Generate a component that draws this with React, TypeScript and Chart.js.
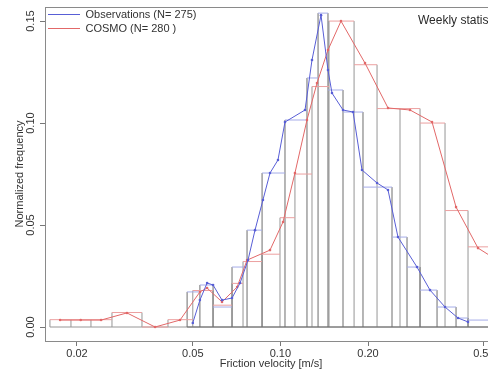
import React, { useEffect, useRef } from 'react';
import { Chart, registerables } from 'chart.js';

Chart.register(...registerables);

// ---- axis ticks ----
const xTickValues = [0.02, 0.05, 0.1, 0.2, 0.5];
const xTickLabels = ['0.02', '0.05', '0.10', '0.20', '0.50'];
const yTickValues = [0, 0.05, 0.1, 0.15];
const yTickLabels = ['0.00', '0.05', '0.10', '0.15'];

// ---- observations histogram (bin edges, normalized frequency) ----
const obsBinEdges = [0.0478, 0.0529, 0.0587, 0.0682, 0.0768, 0.0865, 0.1037, 0.1234, 0.1347, 0.1457, 0.1641, 0.1922, 0.2418, 0.2723, 0.3018, 0.3453, 0.4013, 0.4412, 0.5251];
const obsBinFreq = [0.0172, 0.0206, 0.0098, 0.0294, 0.0475, 0.0755, 0.1015, 0.1221, 0.1539, 0.1162, 0.1054, 0.0686, 0.0441, 0.0294, 0.0181, 0.0098, 0.0044, 0.0034];

// ---- COSMO histogram ----
const cosmoBinEdges = [0.01615, 0.01907, 0.02234, 0.02638, 0.03345, 0.04109, 0.05, 0.05866, 0.0682, 0.0744, 0.08645, 0.09968, 0.1122, 0.1284, 0.1469, 0.1791, 0.2148, 0.2576, 0.3018, 0.3678, 0.4412, 0.6152];
const cosmoBinFreq = [0.0036, 0.0036, 0.0036, 0.0071, 0, 0.0036, 0.0179, 0.0107, 0.0214, 0.0321, 0.0357, 0.0536, 0.075, 0.1179, 0.15, 0.1286, 0.1071, 0.1071, 0.1, 0.0571, 0.0393];

// ---- frequency polygons ----
const obsPolyX = [0.05, 0.0529, 0.056, 0.0587, 0.063, 0.0682, 0.0727, 0.0774, 0.0818, 0.0871, 0.0921, 0.0981, 0.1037, 0.1215, 0.1284, 0.1379, 0.1457, 0.1504, 0.1641, 0.1777, 0.1907, 0.2148, 0.2343, 0.2535, 0.2946, 0.3266, 0.3678, 0.4077, 0.4412];
const obsPolyY = [0.002, 0.0132, 0.0216, 0.0206, 0.0132, 0.0142, 0.0216, 0.0328, 0.0475, 0.0623, 0.0755, 0.0819, 0.1005, 0.1064, 0.1309, 0.1529, 0.126, 0.1147, 0.1064, 0.1054, 0.077, 0.0706, 0.0672, 0.0441, 0.0294, 0.0181, 0.0098, 0.0044, 0.0025];

const cosmoPolyX = [0.0175, 0.0206, 0.0242, 0.0297, 0.0371, 0.0452, 0.0529, 0.056, 0.063, 0.071, 0.0768, 0.0921, 0.1021, 0.1122, 0.1234, 0.1336, 0.1457, 0.1615, 0.1953, 0.2343, 0.2788, 0.3319, 0.4013, 0.4775, 0.5683];
const cosmoPolyY = [0.0034, 0.0034, 0.0034, 0.0069, 0, 0.0034, 0.0172, 0.0191, 0.0123, 0.0196, 0.0328, 0.0377, 0.0515, 0.0755, 0.1015, 0.1196, 0.1358, 0.15, 0.1294, 0.1074, 0.1064, 0.1005, 0.0588, 0.0387, 0.0319];

const obsLabel = 'Observations (N= 275)';
const cosmoLabel = 'COSMO (N= 280 )';
const panelNote = 'Weekly statistics';

const FONT = "'Liberation Sans', Arial, Helvetica, sans-serif";

function histSides(edges: number[], freq: number[]) {
  const pts: { x: number; y: number | null }[] = [];
  for (let i = 0; i < edges.length; i++) {
    const left = i > 0 ? freq[i - 1] : 0;
    const right = i < freq.length ? freq[i] : 0;
    pts.push({ x: edges[i], y: 0 }, { x: edges[i], y: Math.max(left, right) }, { x: edges[i], y: null });
  }
  pts.push({ x: edges[0], y: 0 }, { x: edges[edges.length - 1], y: 0 });
  return pts;
}

function histTops(edges: number[], freq: number[]) {
  const pts: { x: number; y: number | null }[] = [];
  for (let i = 0; i < freq.length; i++) {
    pts.push({ x: edges[i], y: freq[i] }, { x: edges[i + 1], y: freq[i] }, { x: edges[i + 1], y: null });
  }
  return pts;
}

const framePlugin = {
  id: 'frameAndNote',
  afterDraw(chart: any) {
    const { ctx, chartArea } = chart;
    const { left, top, right, bottom } = chartArea;
    ctx.save();
    ctx.strokeStyle = '#8a8a8a';
    ctx.lineWidth = 1;
    ctx.strokeRect(Math.round(left) + 0.5, Math.round(top) + 0.5, Math.round(right - left), Math.round(bottom - top));
    ctx.fillStyle = '#2a2a2a';
    ctx.font = `12px ${FONT}`;
    ctx.textBaseline = 'middle';
    ctx.textAlign = 'left';
    ctx.fillText(panelNote, left + 373, top + 14);
    ctx.restore();
  },
};

export default function App() {
  const ref = useRef<HTMLCanvasElement | null>(null);

  useEffect(() => {
    if (!ref.current) return;
    Chart.defaults.font.family = FONT;
    const blue = 'rgb(88,94,214)';
    const red = 'rgb(226,104,104)';
    const chart = new Chart(ref.current, {
      type: 'scatter',
      data: {
        datasets: [
          {
            label: obsLabel,
            data: obsPolyX.map((x, i) => ({ x, y: obsPolyY[i] })),
            showLine: true,
            borderColor: blue,
            backgroundColor: blue,
            borderWidth: 1,
            pointRadius: 1.3,
            pointBorderWidth: 0,
            order: 0,
          },
          {
            label: cosmoLabel,
            data: cosmoPolyX.map((x, i) => ({ x, y: cosmoPolyY[i] })),
            showLine: true,
            borderColor: red,
            backgroundColor: red,
            borderWidth: 1,
            pointRadius: 1.3,
            pointBorderWidth: 0,
            order: 1,
          },
          {
            label: 'obs-tops',
            data: histTops(obsBinEdges, obsBinFreq),
            showLine: true,
            borderColor: 'rgb(165,172,232)',
            borderWidth: 1,
            pointRadius: 0,
            order: 2,
          },
          {
            label: 'cosmo-tops',
            data: histTops(cosmoBinEdges, cosmoBinFreq),
            showLine: true,
            borderColor: 'rgb(236,160,160)',
            borderWidth: 1,
            pointRadius: 0,
            order: 3,
          },
          {
            label: 'obs-sides',
            data: histSides(obsBinEdges, obsBinFreq),
            showLine: true,
            borderColor: 'rgb(110,110,110)',
            borderWidth: 1,
            pointRadius: 0,
            order: 4,
          },
          {
            label: 'cosmo-sides',
            data: histSides(cosmoBinEdges, cosmoBinFreq),
            showLine: true,
            borderColor: 'rgb(150,150,150)',
            borderWidth: 1,
            pointRadius: 0,
            order: 5,
          },
        ],
      },
      options: {
        animation: false,
        responsive: false,
        devicePixelRatio: 1,
        events: [],
        layout: { padding: { left: 0, right: 23, top: 7, bottom: 0 } },
        scales: {
          x: {
            type: 'logarithmic',
            min: 0.01553,
            max: 0.5549,
            afterFit: (s: any) => { s.height = 30; },
            afterBuildTicks: (s: any) => { s.ticks = xTickValues.map((v) => ({ value: v })); },
            ticks: {
              autoSkip: false,
              maxRotation: 0,
              minRotation: 0,
              padding: 1,
              color: '#333',
              font: { size: 11 },
              callback: (v: any) => {
                const i = xTickValues.indexOf(Number(v));
                return i >= 0 ? xTickLabels[i] : '';
              },
            },
            grid: { drawOnChartArea: false, drawTicks: true, tickLength: 5, color: '#777' },
            border: { display: false },
            title: {
              display: true,
              text: 'Friction velocity [m/s]',
              color: '#333',
              font: { size: 11 },
              padding: { top: 0, bottom: 0 },
            },
          },
          y: {
            type: 'linear',
            min: -0.00686,
            max: 0.1569,
            afterFit: (s: any) => { s.width = 45; },
            afterBuildTicks: (s: any) => { s.ticks = yTickValues.map((v) => ({ value: v })); },
            ticks: {
              minRotation: 90,
              maxRotation: 90,
              crossAlign: 'center',
              padding: -2,
              color: '#333',
              font: { size: 11 },
              callback: (v: any) => {
                const i = yTickValues.indexOf(Number(v));
                return i >= 0 ? yTickLabels[i] : '';
              },
            },
            grid: { drawOnChartArea: false, drawTicks: true, tickLength: 5, color: '#777' },
            border: { display: false },
            title: {
              display: true,
              text: 'Normalized frequency',
              color: '#333',
              font: { size: 11 },
              padding: { top: 13, bottom: 0 },
            },
          },
        },
        plugins: {
          tooltip: { enabled: false },
          legend: {
            position: 'chartArea',
            align: 'start',
            title: { display: true, text: '', font: { size: 5 }, padding: 0 },
            labels: {
              boxWidth: 32,
              boxHeight: 1,
              padding: 3,
              color: '#333',
              font: { size: 11 },
              generateLabels: (c: any) =>
                c.data.datasets.slice(0, 2).map((ds: any, i: number) => ({
                  text: ds.label,
                  fillStyle: ds.borderColor,
                  strokeStyle: ds.borderColor,
                  lineWidth: 0,
                  hidden: false,
                  datasetIndex: i,
                  fontColor: '#333',
                })),
            },
          },
        },
      } as any,
      plugins: [framePlugin],
    });
    return () => chart.destroy();
  }, []);

  return (
    <div style={{ position: 'fixed', left: 0, top: 0, width: 488, height: 371, overflow: 'hidden', background: '#fff' }}>
      <canvas ref={ref} width={520} height={371} style={{ display: 'block', width: 520, height: 371 }} />
    </div>
  );
}
